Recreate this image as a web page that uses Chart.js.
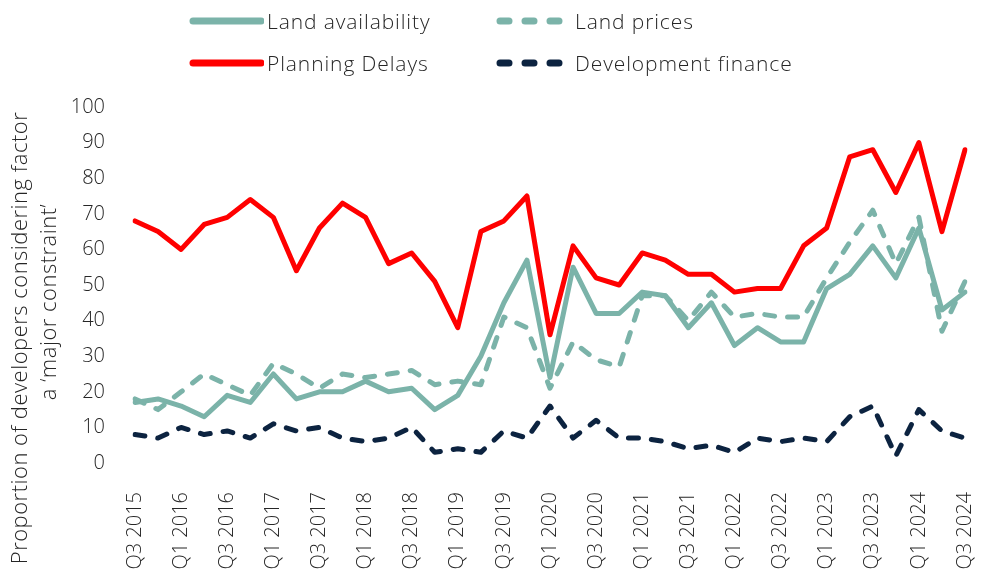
<!DOCTYPE html>
<html>
<head>
<meta charset="utf-8">
<script src="https://cdn.jsdelivr.net/npm/chart.js@4.4.1/dist/chart.umd.min.js"></script>
<style>
  html, body { margin: 0; padding: 0; background: #fff; }
  #wrap { position: relative; width: 984px; height: 576px; font-family: 'Open Sans', Lato, sans-serif; font-weight: 300; color: #262626; }
  #chart { position: absolute; left: 0; top: 0; }
  .lg { position: absolute; height: 24px; display: flex; align-items: center; font-size: 21px; letter-spacing: 0.9px; white-space: nowrap; }
  .lg svg { margin-right: 3px; }
</style>
</head>
<body>
<div id="wrap">
  <canvas id="chart" width="984" height="576"></canvas>
  <div id="legend"></div>
</div>
<script>
/* ============================================
   DATA
============================================ */
const categories = [
    'Q3 2015', 'Q4 2015', 'Q1 2016', 'Q2 2016', 'Q3 2016', 'Q4 2016',
    'Q1 2017', 'Q2 2017', 'Q3 2017', 'Q4 2017', 'Q1 2018', 'Q2 2018',
    'Q3 2018', 'Q4 2018', 'Q1 2019', 'Q2 2019', 'Q3 2019', 'Q4 2019',
    'Q1 2020', 'Q2 2020', 'Q3 2020', 'Q4 2020', 'Q1 2021', 'Q2 2021',
    'Q3 2021', 'Q4 2021', 'Q1 2022', 'Q2 2022', 'Q3 2022', 'Q4 2022',
    'Q1 2023', 'Q2 2023', 'Q3 2023', 'Q4 2023', 'Q1 2024', 'Q2 2024',
    'Q3 2024'
];
const landAvailability = [17, 18, 16, 13, 19, 17, 25, 18, 20, 20, 23, 20, 21, 15, 19, 30, 45, 57, 24, 55, 42, 42, 48, 47, 38, 45, 33, 38, 34, 34, 49, 53, 61, 52, 66, 43, 48];
const landPrices = [18, 15, 20, 25, 22, 19, 28, 25, 21, 25, 24, 25, 26, 22, 23, 22, 41, 38, 21, 34, 29, 27, 47, 47, 40, 48, 41, 42, 41, 41, 52, 62, 71, 56, 69, 37, 51];
const planningDelays = [68, 65, 60, 67, 69, 74, 69, 54, 66, 73, 69, 56, 59, 51, 38, 65, 68, 75, 36, 61, 52, 50, 59, 57, 53, 53, 48, 49, 49, 61, 66, 86, 88, 76, 90, 65, 88];
const devFinance = [8, 7, 10, 8, 9, 7, 11, 9, 10, 7, 6, 7, 10, 3, 4, 3, 9, 7, 16, 7, 12, 7, 7, 6, 4, 5, 3, 7, 6, 7, 6, 13, 16, 2, 15, 9, 7];
const yTicks = [0, 10, 20, 30, 40, 50, 60, 70, 80, 90, 100];

const TEAL = '#7bb3a9';
const RED = '#ff0000';
const NAVY = '#0c2340';
const TEXT = '#262626';
const FONT = "'Open Sans', Lato, sans-serif";

const series = [
    { label: 'Land availability', data: landAvailability, color: TEAL, dash: [] },
    { label: 'Land prices', data: landPrices, color: TEAL, dash: [10, 13] },
    { label: 'Planning Delays', data: planningDelays, color: RED, dash: [] },
    { label: 'Development finance', data: devFinance, color: NAVY, dash: [10, 13] }
];

/* ============================================
   LEGEND (two aligned columns)
============================================ */
function initLegend() {
    const spots = [
        { x: 186, y: 9 }, { x: 492, y: 9 },
        { x: 186, y: 51 }, { x: 492, y: 51 }
    ];
    const el = document.getElementById('legend');
    series.forEach((s, i) => {
        const item = document.createElement('div');
        item.className = 'lg';
        item.style.left = spots[i].x + 'px';
        item.style.top = spots[i].y + 'px';
        const dashed = s.dash.length > 0;
        const w = dashed ? 80 : 78;
        const line = dashed
            ? `<line x1="8" y1="12" x2="71" y2="12" stroke="${s.color}" stroke-width="7" stroke-linecap="round" stroke-dasharray="9 16"/>`
            : `<line x1="7" y1="12" x2="75" y2="12" stroke="${s.color}" stroke-width="7" stroke-linecap="round"/>`;
        item.innerHTML = `<svg width="${w}" height="24">${line}</svg><span>${s.label}</span>`;
        el.appendChild(item);
    });
}

/* ============================================
   Y AXIS TITLE
============================================ */
const yTitlePlugin = {
    id: 'yTitle',
    afterDraw(chart) {
        const ctx = chart.ctx;
        ctx.save();
        ctx.fillStyle = TEXT;
        ctx.font = `300 22px ${FONT}`;
        ctx.letterSpacing = '0.5px';
        ctx.textAlign = 'center';
        ctx.textBaseline = 'middle';
        ctx.translate(21, 338);
        ctx.rotate(-Math.PI / 2);
        ctx.fillText('Proportion of developers considering factor', 0, 0);
        ctx.fillText("a \u2018major constraint\u2019", 36, 29);
        ctx.restore();
    }
};

/* ============================================
   LINE CHART
============================================ */
function initChart() {
    const canvas = document.getElementById('chart');

    new Chart(canvas.getContext('2d'), {
        type: 'line',
        data: {
            labels: categories,
            datasets: series.map(s => ({
                label: s.label,
                data: s.data,
                borderColor: s.color,
                backgroundColor: s.color,
                borderWidth: 5,
                borderDash: s.dash,
                borderCapStyle: 'round',
                borderJoinStyle: 'round',
                pointRadius: 0,
                tension: 0,
                fill: false
            })).reverse()
        },
        options: {
            responsive: false,
            animation: false,
            layout: { padding: { top: 107, right: 19, bottom: 0, left: 0 } },
            plugins: {
                legend: { display: false },
                tooltip: { enabled: false }
            },
            scales: {
                x: {
                    offset: false,
                    grid: { display: false, drawTicks: false },
                    border: { display: false },
                    ticks: {
                        autoSkip: false,
                        minRotation: 90,
                        maxRotation: 90,
                        padding: 29,
                        color: TEXT,
                        font: { family: FONT, size: 20, weight: '300' },
                        callback: (v, i) => i % 2 ? '' : categories[i]
                    },
                    afterFit: s => {
                        s.height = 113;
                        s.paddingLeft = 0;
                        s.paddingRight = 0;
                    }
                },
                y: {
                    min: 0,
                    max: 100,
                    grid: { display: false, drawTicks: false },
                    border: { display: false },
                    afterBuildTicks: s => { s.ticks = yTicks.map(v => ({ value: v })); },
                    ticks: {
                        padding: 30,
                        color: TEXT,
                        font: { family: FONT, size: 20, weight: '300' }
                    },
                    afterFit: s => { s.width = 135; }
                }
            }
        },
        plugins: [yTitlePlugin]
    });
}

document.addEventListener('DOMContentLoaded', () => {
    initLegend();
    initChart();
});
</script>
</body>
</html>
